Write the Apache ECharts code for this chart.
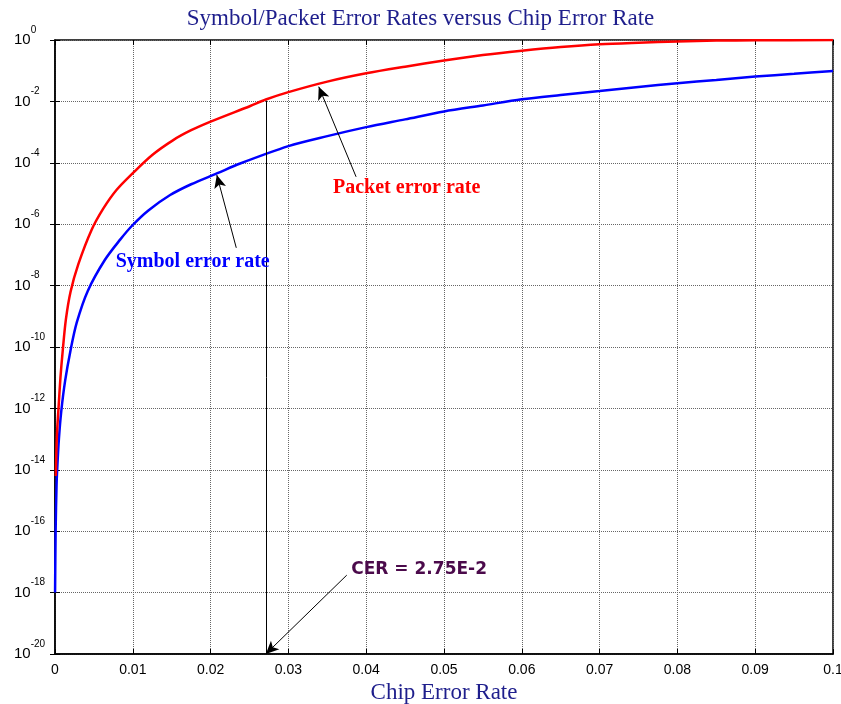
<!DOCTYPE html>
<html>
<head>
<meta charset="utf-8">
<script src="https://cdn.jsdelivr.net/npm/echarts@6/dist/echarts.min.js"></script>
<style>html,body{margin:0;padding:0;background:#fff}#c{width:841px;height:704px}</style>
</head>
<body>
<div id="c"></div>
<script>
// Chip error rate samples and read-off error rates
const packetCER = [0.0001,0.0002,0.0003,0.00045,0.0007,0.001,0.0014,0.002,0.003,0.0047,0.0062,0.0079,0.01,0.0125,0.0152,0.0175,0.02,0.0251,0.0271,0.03,0.035,0.04,0.045,0.05,0.055,0.06,0.065,0.07,0.075,0.08,0.085,0.09,0.1];
const packetErr = [6.3e-15,6.3e-14,2.5e-13,1e-12,1e-11,7.9e-11,7.9e-10,6.3e-9,5e-8,6.5e-7,3.2e-6,1.3e-5,4.6e-5,1.8e-4,5.5e-4,1.15e-3,2.2e-3,7.1e-3,0.0115,0.02,0.044,0.082,0.135,0.214,0.324,0.447,0.589,0.724,0.813,0.891,0.955,0.977,0.993];
const symbolCER = [0.00001,0.00008,0.0002,0.0003,0.0005,0.0008,0.0013,0.002,0.0028,0.0042,0.0064,0.0084,0.0099,0.012,0.0148,0.0175,0.0208,0.0238,0.03,0.035,0.04,0.045,0.05,0.055,0.06,0.065,0.07,0.075,0.08,0.085,0.09,0.095,0.1];
const symbolErr = [1e-18,1e-16,3.2e-15,1.26e-14,1e-13,7.9e-13,7.9e-12,7.9e-11,6.3e-10,6.6e-9,6.8e-8,3.2e-7,8.9e-7,2.8e-6,8.9e-6,2e-5,4.5e-5,9.5e-5,3.5e-4,7.4e-4,1.45e-3,2.6e-3,4.7e-3,7.4e-3,0.0117,0.0162,0.0219,0.0295,0.039,0.05,0.0646,0.079,0.098];
const xTicks = [0,0.01,0.02,0.03,0.04,0.05,0.06,0.07,0.08,0.09,0.1];
const cerMarker = 0.0271;

const navy = '#1e1e8c';
const serif = '"Liberation Serif", "DejaVu Serif", serif';
const sans = '"Liberation Sans", Arial, sans-serif';

function pairs(xs, ys){ return xs.map((x,i)=>[x, ys[i]]); }

const chart = echarts.init(document.getElementById('c'), null, {renderer:'canvas'});
const arrowLine = {color:'#000', width:1, type:'solid'};
function arrow(from, to){
  return [{coord:from, symbol:'none'},{coord:to, symbol:'arrow', symbolSize:[9,13], itemStyle:{color:'#000'}}];
}
chart.setOption({
  animation:false,
  backgroundColor:'#fff',
  title:{
    text:'Symbol/Packet Error Rates versus Chip Error Rate',
    left:'center', top:2,
    textStyle:{fontFamily:serif, fontWeight:'normal', fontSize:23, color:navy}
  },
  grid:{left:55, right:8, top:40, bottom:50, containLabel:false, outerBoundsMode:'none',
        show:true, borderColor:'#000', borderWidth:1.5, backgroundColor:'transparent'},
  xAxis:[{
    type:'value', min:0, max:0.1, interval:0.01,
    name:'Chip Error Rate', nameLocation:'middle', nameGap:26,
    nameTextStyle:{fontFamily:serif, fontSize:23, color:navy},
    axisLine:{lineStyle:{color:'#000', width:1.5}},
    axisTick:{inside:true, length:5, lineStyle:{color:'#000'}},
    axisLabel:{fontFamily:sans, fontSize:14, color:'#000', margin:9,
      formatter:v=>{ const t = xTicks.find(k=>Math.abs(k-v)<1e-9); return t===0?'0':(Math.abs(t-0.1)<1e-9?'0.1':t.toFixed(2)); }},
    splitLine:{show:true, lineStyle:{color:'#666', type:'dotted', width:1}}
  },{
    type:'value', min:0, max:0.1, interval:0.01, position:'top',
    axisLine:{show:false}, axisTick:{inside:true, length:5, lineStyle:{color:'#000'}},
    axisLabel:{show:false}, splitLine:{show:false}
  }],
  yAxis:[{
    type:'log', logBase:10, min:1e-20, max:1, interval:2,
    axisLine:{show:true, lineStyle:{color:'#000', width:1.5}},
    axisTick:{inside:true, length:5, lineStyle:{color:'#000'}},
    axisLabel:{align:'left', margin:41,
      formatter:v=>'{b|10}{e|'+Math.round(Math.log10(v))+'}',
      rich:{ b:{fontFamily:sans, fontSize:15, color:'#000', lineHeight:30, verticalAlign:'middle'},
             e:{fontFamily:sans, fontSize:10, color:'#000', verticalAlign:'top'} }},
    splitLine:{show:true, lineStyle:{color:'#666', type:'dotted', width:1}},
    minorTick:{show:false}
  },{
    type:'log', logBase:10, min:1e-20, max:1, interval:2, position:'right',
    axisLine:{show:false}, axisTick:{inside:true, length:5, lineStyle:{color:'#000'}},
    axisLabel:{show:false}, splitLine:{show:false}
  }],
  series:[{
    name:'Symbol error rate', type:'line', data:pairs(symbolCER, symbolErr),
    showSymbol:false, smooth:0.3, silent:true,
    lineStyle:{color:'#0000ff', width:2.5}, itemStyle:{color:'#0000ff'},
    z:3
  },{
    name:'Packet error rate', type:'line', data:pairs(packetCER, packetErr),
    showSymbol:false, smooth:0.3, silent:true,
    lineStyle:{color:'#ff0000', width:2.5}, itemStyle:{color:'#ff0000'},
    z:4,
    markLine:{
      silent:true, animation:false, label:{show:false}, symbol:['none','arrow'],
      lineStyle:arrowLine, itemStyle:{color:'#000'},
      data:[
        [{coord:[cerMarker,1e-20], symbol:'none'},{coord:[cerMarker,0.0105], symbol:'none'}],
        arrow([0.0387,3.5e-5],[0.0339,0.0302]),
        arrow([0.0233,1.7e-7],[0.0208,4e-5]),
        arrow([0.0375,3.7e-18],[0.0271,1e-20])
      ]
    },
    markPoint:{
      silent:true, symbol:'circle', symbolSize:0, animation:false,
      data:[
        {coord:[0.0452,1.5e-5], label:{show:true, position:'inside', formatter:'Packet error rate', fontFamily:serif, fontWeight:'bold', fontSize:20, color:'#ff0000'}},
        {coord:[0.0177,5.9e-8], label:{show:true, position:'inside', formatter:'Symbol error rate', fontFamily:serif, fontWeight:'bold', fontSize:20, color:'#0000ff'}},
        {coord:[0.0468,5.5e-18], label:{show:true, position:'inside', formatter:'CER = 2.75E-2', fontFamily:'"DejaVu Sans", sans-serif', fontWeight:'bold', fontSize:17, color:'#4b0a4b'}}
      ]
    }
  }]
});
</script>
</body>
</html>
